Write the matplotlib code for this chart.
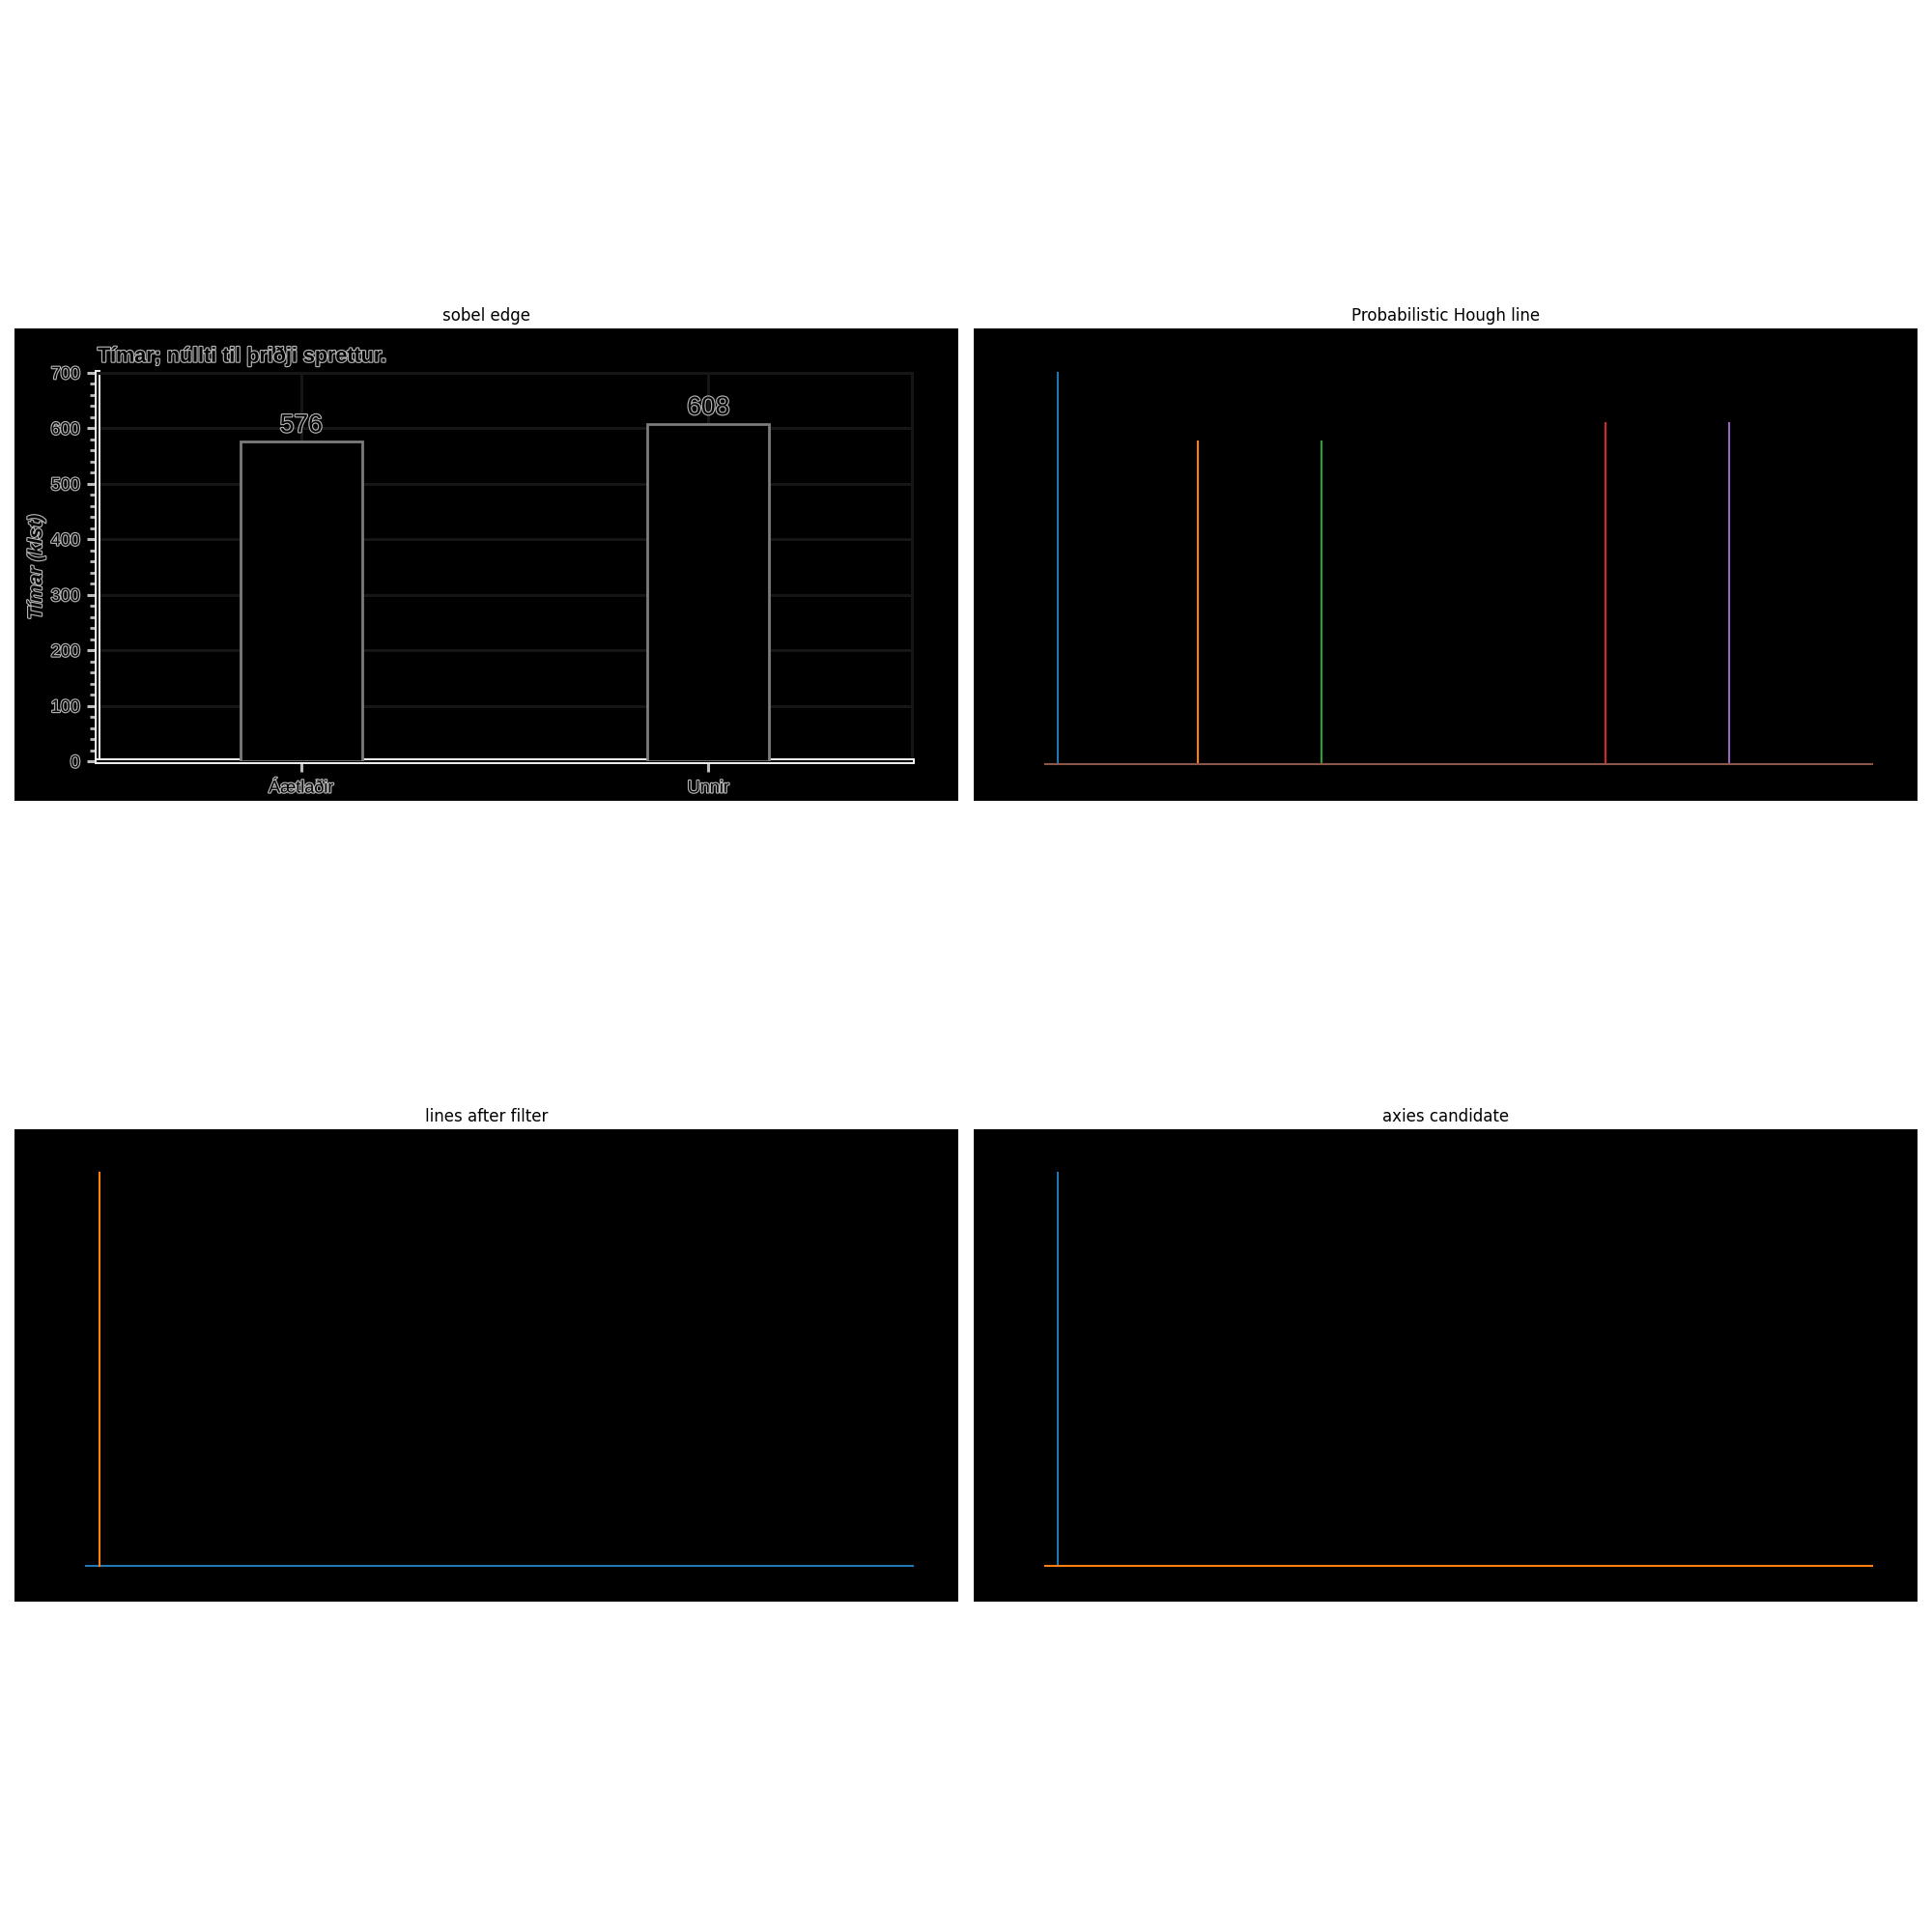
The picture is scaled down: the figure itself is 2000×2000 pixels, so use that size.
import numpy as np
import matplotlib
matplotlib.use("Agg")
import matplotlib.pyplot as plt
import matplotlib.patheffects as pe
from matplotlib.ticker import MultipleLocator

# image size of the edge map (pixels)
IMG_W, IMG_H = 1000, 500

# bar chart seen in the sobel edge image
categories = ["Áætlaðir", "Unnir"]
hours = [576, 608]
chart_title = "Tímar; núllti til þriðji sprettur."
y_label = "Tímar (klst)"
y_ticks = [0, 100, 200, 300, 400, 500, 600, 700]

# probabilistic Hough segments (x0, y0, x1, y1) in image pixels
hough_x0 = [89, 237, 368, 669, 800, 75]
hough_y0 = [46, 119, 119, 100, 100, 461]
hough_x1 = [89, 237, 368, 669, 800, 951]
hough_y1 = [461, 461, 461, 461, 461, 461]

# lines kept after filtering
filter_x0 = [75, 90]
filter_y0 = [462, 45]
filter_x1 = [951, 90]
filter_y1 = [462, 462]

# axis candidates
cand_x0 = [89, 75]
cand_y0 = [45, 462]
cand_x1 = [89, 951]
cand_y1 = [462, 462]

blank = np.zeros((IMG_H, IMG_W))

fig = plt.figure(figsize=(20, 20), dpi=100)
positions = [
    [0.0075, 0.5855, 0.4885, 0.2445],
    [0.504, 0.5855, 0.4885, 0.2445],
    [0.0075, 0.171, 0.4885, 0.2445],
    [0.504, 0.171, 0.4885, 0.2445],
]
titles = ["sobel edge", "Probabilistic Hough line", "lines after filter", "axies candidate"]
axes = []
for pos, t in zip(positions, titles):
    ax = fig.add_axes(pos)
    ax.imshow(blank, cmap="gray", vmin=0, vmax=1)
    ax.set_title(t, fontsize=12)
    ax.axis("off")
    axes.append(ax)


def draw_segments(ax, x0, y0, x1, y1):
    for a, b, c, d in zip(x0, y0, x1, y1):
        ax.plot([a, c], [b, d])
    ax.set_xlim(-0.5, IMG_W - 0.5)
    ax.set_ylim(IMG_H - 0.5, -0.5)


draw_segments(axes[1], hough_x0, hough_y0, hough_x1, hough_y1)
draw_segments(axes[2], filter_x0, filter_y0, filter_x1, filter_y1)
draw_segments(axes[3], cand_x0, cand_y0, cand_x1, cand_y1)

# edge-look bar chart inside the first panel
edge = "#b4b4b4"
outline = [pe.withStroke(linewidth=1.7, foreground=edge)]
double = [pe.Stroke(linewidth=4.3, foreground="#eeeeee"), pe.Normal()]

bx = fig.add_axes([0.0505, 0.606, 0.4215, 0.20115], zorder=5)
bx.set_facecolor("black")
xpos = np.arange(len(categories))
bars = bx.bar(xpos, hours, width=0.3, color="black", edgecolor="#7c7c7c",
              linewidth=2, zorder=3)
bx.set_xlim(-0.5, 1.5)
bx.set_ylim(0, 700)
bx.set_xticks(xpos)
bx.set_xticklabels(categories)
bx.set_yticks(y_ticks)
bx.yaxis.set_minor_locator(MultipleLocator(20))
bx.grid(True, color="#161616", linewidth=2.2)
bx.set_axisbelow(True)
for s in ["left", "bottom"]:
    bx.spines[s].set_color("black")
    bx.spines[s].set_linewidth(1.4)
    bx.spines[s].set_path_effects(double)
    bx.spines[s].set_zorder(2.5)
for s in ["top", "right"]:
    bx.spines[s].set_color("#161616")
    bx.spines[s].set_linewidth(2.2)
bx.tick_params(axis="both", which="major", colors="#bdbdbd", width=2.2, length=8)
bx.tick_params(axis="y", which="minor", colors="#bdbdbd", width=2, length=6)
bx.tick_params(axis="x", which="major", pad=6)
bx.tick_params(axis="y", which="major", pad=5)
for lab in bx.get_xticklabels() + bx.get_yticklabels():
    lab.set_family("Liberation Sans")
    lab.set_fontsize(13)
    lab.set_color("black")
    lab.set_path_effects(outline)
for rect, v in zip(bars, hours):
    bx.text(rect.get_x() + rect.get_width() / 2, v + 8, str(v), ha="center", va="bottom",
            fontsize=19, family="Liberation Sans", color="black", path_effects=outline)
bx.set_title(chart_title, loc="left", fontsize=15.5, fontweight="bold",
             family="Liberation Sans", color="black", path_effects=outline, pad=8)
bx.set_ylabel(y_label, fontsize=14.5, fontweight="bold", fontstyle="italic",
              family="Liberation Sans", color="black", path_effects=outline, labelpad=4)

fig.savefig("out.png", dpi=100, facecolor="white")
